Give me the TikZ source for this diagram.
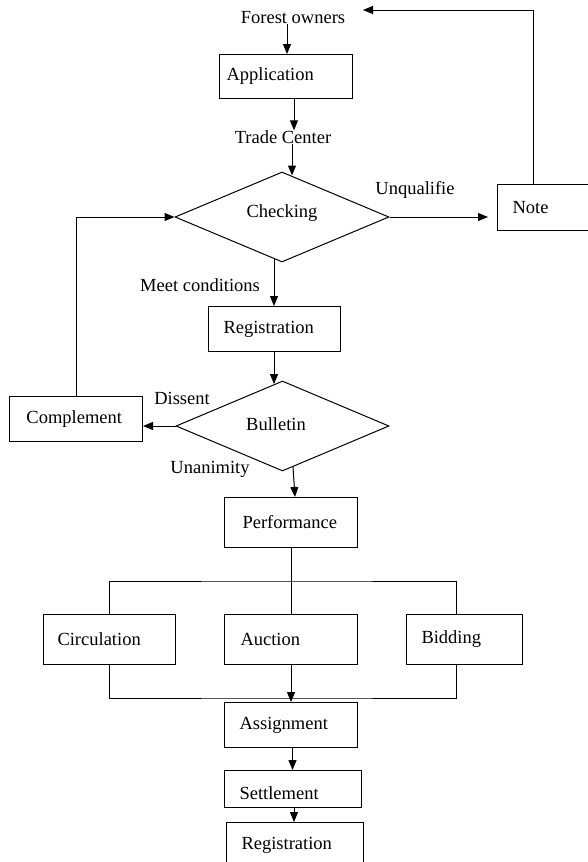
\documentclass[tikz,border=0pt]{standalone}
\usepackage{fontspec}
\setmainfont{Liberation Serif}
\usetikzlibrary{arrows.meta,shapes.geometric,calc}
\begin{document}
\begin{tikzpicture}[x=1pt,y=-1pt,
  every node/.style={font=\fontsize{18.5}{22}\selectfont, inner sep=0pt},
  ln/.style={line width=1pt},
  arr/.style={line width=1pt,-{Triangle[length=10pt,width=8pt]}},
  box/.style={draw,line width=1pt,anchor=north west,align=left,inner ysep=0pt},
  dia/.style={draw,line width=1pt,diamond,inner sep=0pt,minimum width=214pt,minimum height=90pt},
  lbl/.style={inner sep=0pt}]
\useasboundingbox (0,0) rectangle (588,862);
% text-only nodes
\node[lbl] (fo) at (293,18) {Forest owners};
\node[lbl] (tc) at (283,137) {Trade Center};
% boxes
\node[box,inner xsep=7pt,text width=119pt,minimum height=44pt] (app) at (219,54) {Application};
\node[dia] (chk) at (282,217) {};
\node[lbl] (chkt) at (282,213) {Checking};
\node[box,inner xsep=15pt,text width=65pt,minimum height=46pt] (note) at (497,184) {Note};
\node[box,inner xsep=15pt,text width=102pt,minimum height=45pt] (reg) at (208,306) {Registration};
\node[dia,minimum width=213pt] (bul) at (282.5,426) {};
\node[lbl] (bult) at (276,424) {Bulletin};
\node[box,inner xsep=17pt,text width=99pt,minimum height=45pt] (comp) at (9,396) {Complement};
\node[box,inner xsep=18pt,text width=97pt,minimum height=50pt] (perf) at (224,497) {Performance};
\node[box,inner xsep=14pt,text width=104pt,minimum height=50pt] (circ) at (43,614) {Circulation};
\node[box,inner xsep=16pt,text width=101pt,minimum height=50pt] (auc) at (224,614) {Auction};
\node[box,inner xsep=15pt,text width=86pt,minimum height=50pt] (bid) at (406,614) {Bidding};
\node[box,inner xsep=15pt,text width=103pt,minimum height=45pt] (asg) at (224,702) {Assignment};
\node[box,inner xsep=15pt,text width=107pt,minimum height=37pt,text height=24pt,text depth=4pt] (set) at (224,770) {Settlement};
\node[box,inner xsep=15pt,text width=107pt,minimum height=46pt] (reg2) at (226,822) {Registration};
% edge labels
\node[lbl] (unq) at (415,190) {Unqualifie};
\node[lbl] (meet) at (200,285) {Meet conditions};
\node[lbl] (dis) at (182,398) {Dissent};
\node[lbl] (una) at (210,469) {Unanimity};
% coordinates
\coordinate (fbtop) at (363,10);
\coordinate (bus1) at (290.5,581);
\coordinate (bus2) at (290.5,698);
% connectors
\draw[arr] (fo.south -| 287,0) -- (app.north -| 287,0);
\draw[arr] (app.south -| 294,0) -- (tc.north -| 294,0);
\draw[arr] (tc.south -| 292,0) -- ($(chk.north)+(10,4)$);
\draw[arr,shorten >=9pt] (chk.east) -- (note.west |- chk.east);
\draw[arr] (note.north -| 533,0) |- (fbtop);
\draw[arr] (comp.north) |- (chk.west);
\draw[arr] ($(chk.south)+(-8,-3.4)$) -- (reg.north -| 274,0);
\draw[arr] (reg.south -| 274,0) -- ($(bul.north)+(-8.5,3.6)$);
\draw[arr] (bul.west) -- (comp.east |- bul.west);
\draw[arr] ($(bul.south)+(10.5,-4.4)$) -- (perf.north -| 295,0);
\draw[ln] (perf.south) -- (auc.north);
\draw[ln] (circ.north) |- (bus1) -| (bid.north -| 456,0);
\draw[ln] (circ.south) |- (bus2) -| (bid.south -| 456,0);
\draw[arr] (auc.south) -- (asg.north);
\draw[arr] (asg.south -| 292.5,0) -- (set.north -| 292.5,0);
\draw[arr] (set.south -| 294,0) -- (reg2.north -| 294,0);
\end{tikzpicture}
\end{document}
